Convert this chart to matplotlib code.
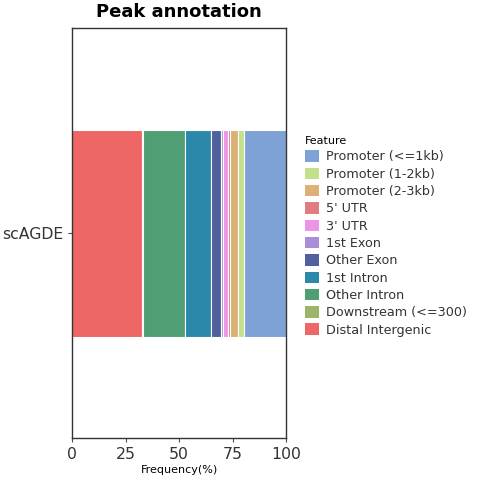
import matplotlib
matplotlib.use("Agg")
import matplotlib.pyplot as plt
from matplotlib.patches import Patch

# Peak annotation stacked bar (one sample)
sample = "scAGDE"

features = ["Distal Intergenic", "Downstream (<=300)", "Other Intron", "1st Intron",
            "Other Exon", "1st Exon", "3' UTR", "5' UTR",
            "Promoter (2-3kb)", "Promoter (1-2kb)", "Promoter (<=1kb)"]
freq = [32.8, 0.4, 19.8, 12.0, 4.5, 1.0, 2.6, 0.8, 3.6, 3.0, 19.5]
colors = ["#ee6666", "#9db568", "#4f9e74", "#2b88aa", "#505f9d", "#aa8ed6",
          "#ec95e7", "#e07b7f", "#ddb075", "#c3e08a", "#7ea1d6"]

fig = plt.figure(figsize=(4.8, 4.8), dpi=100)
ax = fig.add_axes([0.15, 0.0875, 0.446, 0.854])

left = 0
for f, v, c in zip(features, freq, colors):
    ax.barh(0, v, left=left, height=0.606, color=c, edgecolor="white", linewidth=0.8)
    left += v

ax.set_xlim(0, 100)
ax.set_ylim(-0.6, 0.6)
ax.set_xticks([0, 25, 50, 75, 100])
ax.set_yticks([0])
ax.set_yticklabels([sample])
ax.tick_params(axis="both", labelsize=11.3, colors="#4d4d4d", labelcolor="#333333",
               length=3)
for sp in ax.spines.values():
    sp.set_color("#333333")
    sp.set_linewidth(1.0)

ax.set_title("Peak annotation", fontsize=13, fontweight="bold", pad=8)
ax.set_xlabel("Frequency(%)", fontsize=8, labelpad=2)

# legend in reversed order, like the original
handles = [Patch(facecolor=c, edgecolor="none") for c in colors[::-1]]
leg = fig.legend(handles, features[::-1], loc="upper left",
                 bbox_to_anchor=(0.625, 0.727), frameon=False, fontsize=9.2,
                 title="Feature", title_fontsize=8, handlelength=1.05,
                 handleheight=1.0, labelspacing=0.33, handletextpad=0.6,
                 borderaxespad=0)
leg._legend_box.align = "left"
for t in leg.get_texts():
    t.set_color("#333333")

fig.savefig("out.png", dpi=100)
